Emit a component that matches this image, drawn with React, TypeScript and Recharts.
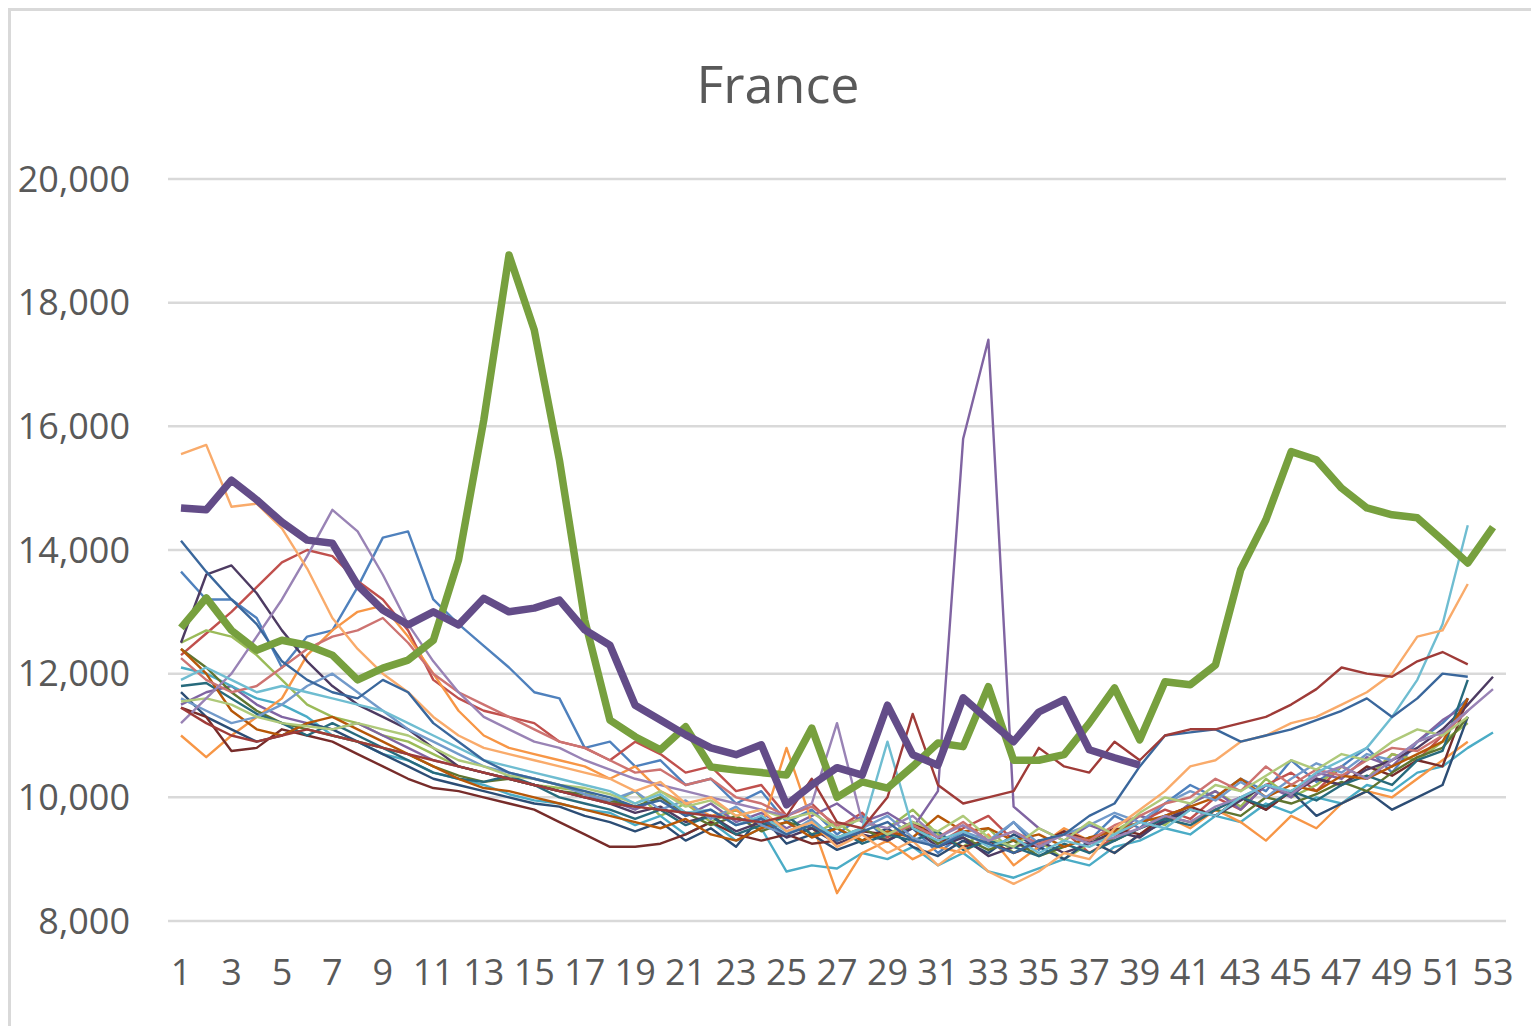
import { LineChart, Line, XAxis, YAxis, CartesianGrid } from "recharts";

// weekly deaths, France, one array per year (2021 stops at week 39)
const weeks = [
  1, 2, 3, 4, 5, 6, 7, 8, 9, 10, 11, 12, 13, 14, 15, 16, 17, 18, 19, 20, 21, 22, 23, 24, 25, 26, 27,
  28, 29, 30, 31, 32, 33, 34, 35, 36, 37, 38, 39, 40, 41, 42, 43, 44, 45, 46, 47, 48, 49, 50, 51, 52, 53,
];
const yTicks = [8000, 10000, 12000, 14000, 16000, 18000, 20000];

const y2000 = [13650,13200,13200,12900,12100,12600,12700,13400,14200,14300,13200,12800,12450,12100,11700,11600,10800,10900,10500,10600,10200,10300,9900,10100,9600,9800,9400,9700,9300,9500,9100,9400,9250,9600,9150,9450,9300,9700,9500,9900,10200,10000,10300,10100,10600,10250,10500,10800,10400,10900,11200,11600];
const y2001 = [12300,12650,13000,13400,13800,14000,13900,13500,13200,12700,11900,11600,11400,11300,11200,10900,10800,10600,10900,10700,10400,10500,10100,10200,9700,9900,9500,9750,9350,9600,9250,9500,9700,9300,9200,9450,9100,9350,9600,9800,9650,10000,9800,10200,10400,10100,10500,10300,10700,10600,11000,11500];
const y2002 = [12500,12700,12600,12300,11900,11500,11300,11200,11000,10900,10700,10500,10400,10300,10200,10150,10100,9900,10100,9700,9900,9600,9800,9500,9700,9400,9600,9300,9500,9800,9400,9200,9500,9100,9300,9000,9250,9450,9700,9550,9900,10100,9850,10300,10000,10200,10500,10300,10700,10600,10900,11200];
const y2003 = [11500,11700,11800,11500,11300,11200,11100,11200,11000,10800,10600,10500,10400,10300,10200,10100,10000,9950,9800,10000,9700,9900,9600,9750,9500,9700,9900,9600,9750,9500,10100,15800,17400,9850,9500,9300,9550,9400,9700,9600,9900,10100,9800,10200,10000,10400,10300,10650,10500,10900,11250,11500];
const y2004 = [12100,12000,11800,11600,11500,11300,11000,10900,10700,10600,10400,10300,10200,10050,9950,9900,9800,9750,9550,9700,9400,9600,9300,9500,8800,8900,8850,9100,9000,9200,8900,9100,8800,8700,8850,9000,8900,9200,9300,9500,9400,9700,9600,9900,9750,10000,9900,10200,10100,10400,10500,10800,11050];
const y2005 = [11000,10650,11000,11300,11600,12300,12700,13000,13100,12600,12000,11400,11000,10800,10700,10600,10500,10300,10500,10100,9900,9700,9800,9500,10800,9600,8450,9100,9300,9000,9200,9100,9400,8900,9200,9500,9300,9100,9400,9700,9500,9800,9600,9300,9700,9500,9900,10100,10000,10300,10600,10900];
const y2006 = [11700,11300,11100,10900,11000,11200,11100,10900,10700,10500,10300,10200,10100,10000,9900,9850,9700,9600,9450,9600,9300,9500,9200,9700,9250,9400,9150,9300,9500,9200,9050,9300,9100,9400,9200,9000,9300,9100,9400,9600,9800,9700,10000,9800,10100,9700,9900,10100,9800,10000,10200,11300];
const y2007 = [11450,11300,10750,10800,11100,11000,10900,10700,10500,10300,10150,10100,10000,9900,9800,9600,9400,9200,9200,9250,9400,9600,9400,9300,9400,9250,9300,9450,9400,9600,9350,9200,9300,9100,9250,9450,9300,9500,9400,9700,9850,9700,10000,9800,10100,10300,10200,10500,10350,10600,10500,11600];
const y2008 = [12400,12100,11700,11400,11200,11100,11000,10900,10800,10700,10500,10350,10250,10300,10200,10100,10050,9950,9850,10000,9750,9550,9700,9450,9600,9500,9350,9500,9300,9550,9250,9350,9150,9300,9050,9200,9350,9300,9500,9700,9600,9800,9700,10000,9900,10050,10250,10100,10400,10650,10800,11300];
const y2009 = [12500,13600,13750,13300,12700,12200,11800,11500,11300,11100,10800,10500,10400,10300,10200,10100,10000,9900,9750,9850,9600,9700,9450,9600,9350,9500,9250,9400,9300,9500,9200,9350,9050,9200,9300,9100,9250,9450,9350,9650,9800,9700,9950,10200,10050,10300,10200,10450,10600,10800,11100,11500,11950];
const y2010 = [11800,11850,11600,11350,11200,11000,11200,11000,10800,10600,10400,10300,10250,10350,10200,10000,9900,9800,9650,9800,9550,9700,9400,9550,9700,9400,9500,9250,9400,9300,9450,9150,9300,9200,9050,9250,9100,9300,9500,9650,9550,9800,10000,9850,10100,9950,10200,10350,10200,10600,10750,11900];
const y2011 = [12400,12000,11400,11100,11000,11200,11300,11100,10900,10700,10500,10300,10150,10100,10000,9900,9800,9700,9600,9500,9650,9400,9300,9500,9600,9350,9500,9300,9450,9350,9700,9450,9500,9300,9400,9200,9350,9450,9600,9700,9850,10000,10300,10000,10200,10100,10350,10300,10500,10700,10900,11600];
const y2012 = [11600,11400,11200,11300,11500,11800,12000,11700,11400,11100,10900,10700,10500,10400,10300,10200,10050,9950,10100,9800,9950,9650,9850,9550,9400,9650,9300,9500,9700,9350,9200,9450,9300,9600,9250,9400,9550,9750,9600,9900,10100,9950,10250,10000,10300,10550,10400,10700,10600,10900,11050,11400];
const y2013 = [12250,11900,11700,11800,12100,12400,12600,12700,12900,12500,12000,11700,11500,11300,11100,10900,10800,10600,10400,10450,10200,10300,10000,9900,9700,9850,9550,9650,9400,9550,9350,9600,9300,9450,9250,9400,9300,9550,9700,9900,10000,10300,10100,10500,10200,10450,10350,10600,10800,10750,11000,11400];
const y2014 = [11550,11600,11500,11300,11200,11150,11100,11200,11100,11000,10800,10600,10500,10350,10300,10200,10150,10050,9900,10100,9850,9950,9700,9800,9650,9750,9500,9650,9400,9600,9450,9700,9350,9200,9500,9300,9600,9400,9750,10000,9900,10200,10100,10350,10600,10450,10700,10600,10900,11100,11000,11300];
const y2015 = [11200,11600,12000,12600,13200,13900,14650,14300,13600,12800,12200,11700,11300,11100,10900,10800,10600,10450,10300,10200,10100,10000,9900,9800,9700,9900,11200,9600,9500,9700,9350,9550,9300,9450,9200,9400,9250,9350,9500,9700,9600,9850,10000,10200,10050,10350,10500,10300,10600,10900,11050,11400,11750];
const y2016 = [11900,12100,11900,11700,11800,11700,11600,11500,11400,11200,11000,10800,10600,10500,10400,10300,10200,10100,9900,10050,9750,9800,9550,9700,9450,9600,9350,9500,10900,9500,9300,9450,9200,9350,9100,9300,9200,9400,9600,9500,9800,9700,10000,10200,10100,10400,10600,10800,11300,11900,12800,14400];
const y2017 = [15550,15700,14700,14750,14350,13700,12900,12400,12000,11700,11300,11000,10800,10700,10600,10500,10400,10300,10100,10250,9900,10000,9700,9800,9450,9600,9200,9400,9100,9300,8900,9200,8800,8600,8800,9100,9000,9500,9800,10100,10500,10600,10900,11000,11200,11300,11500,11700,12000,12600,12700,13450];
const y2018 = [14150,13650,13200,12800,12200,11900,11700,11600,11900,11700,11200,10900,10600,10400,10300,10200,10100,10000,9850,9950,9700,9800,9550,9650,9400,9550,9300,9450,9600,9300,9200,9400,9250,9100,9300,9400,9700,9900,10500,11000,11050,11100,10900,11000,11100,11250,11400,11600,11300,11600,12000,11950];
const y2019 = [11450,11200,11000,10900,11000,11100,11000,10900,10800,10700,10600,10500,10400,10300,10200,10100,10000,9900,9850,9800,9750,9700,9650,9600,9700,10300,9600,9500,10000,11350,10200,9900,10000,10100,10800,10500,10400,10900,10600,11000,11100,11100,11200,11300,11500,11750,12100,12000,11950,12200,12350,12150];
const y2020 = [12740,13225,12700,12380,12540,12460,12300,11900,12090,12220,12540,13840,16100,18770,17560,15450,12870,11250,10980,10770,11140,10490,10440,10400,10360,11120,10000,10250,10150,10500,10880,10820,11790,10600,10600,10690,11200,11770,10930,11870,11820,12140,13680,14490,15590,15460,15000,14680,14570,14520,14160,13790,14370];
const y2021 = [14680,14650,15130,14810,14450,14160,14110,13430,13030,12790,13000,12790,13220,13000,13060,13190,12710,12460,11490,11250,11010,10800,10690,10850,9880,10200,10480,10360,11490,10690,10520,11610,11250,10900,11380,11580,10770,10640,10520];

const years = [
  { key: "2000", values: y2000 },
  { key: "2001", values: y2001 },
  { key: "2002", values: y2002 },
  { key: "2003", values: y2003 },
  { key: "2004", values: y2004 },
  { key: "2005", values: y2005 },
  { key: "2006", values: y2006 },
  { key: "2007", values: y2007 },
  { key: "2008", values: y2008 },
  { key: "2009", values: y2009 },
  { key: "2010", values: y2010 },
  { key: "2011", values: y2011 },
  { key: "2012", values: y2012 },
  { key: "2013", values: y2013 },
  { key: "2014", values: y2014 },
  { key: "2015", values: y2015 },
  { key: "2016", values: y2016 },
  { key: "2017", values: y2017 },
  { key: "2018", values: y2018 },
  { key: "2019", values: y2019 },
  { key: "2020", values: y2020 },
  { key: "2021", values: y2021 },
];

// office 2007 style palette, one per year
const colors = [
  "#4F81BD", "#C0504D", "#9BBB59", "#8064A2", "#4BACC6", "#F79646",
  "#2C4D75", "#772C2A", "#5F7530", "#4D3B62", "#276A7C", "#B65708",
  "#729ACA", "#CD7371", "#AFC97A", "#9983B5", "#6FBDD1", "#F9AB6B",
  "#3A679C", "#9F3B38", "#77A03E", "#634C88",
];
const thick = ["2020", "2021"];

const data = weeks.map((week, i) => {
  const row: Record<string, number | undefined> = { week };
  years.forEach((y) => {
    row[y.key] = y.values[i];
  });
  return row;
});

const font = "'Open Sans', 'Liberation Sans', sans-serif";
const tickStyle = { fontSize: 36, fill: "#595959", fontFamily: font };

export default function App() {
  return (
    <div
      style={{
        position: "relative",
        width: 1523,
        height: 1018,
        boxSizing: "border-box",
        borderTop: "3px solid #d9d9d9",
        borderLeft: "3px solid #d9d9d9",
        background: "#fff",
      }}
    >
      <svg
        width={1520}
        height={150}
        style={{ position: "absolute", left: 0, top: 0, pointerEvents: "none" }}
      >
        <text x={767} y={92} textAnchor="middle" fontSize={52} fill="#595959" fontFamily={font}>
          France
        </text>
      </svg>
      <LineChart
        width={1520}
        height={1015}
        data={data}
        margin={{ top: 168, right: 25, bottom: 45, left: 0 }}
      >
        <CartesianGrid vertical={false} stroke="#d9d9d9" strokeWidth={2.5} />
        <XAxis
          dataKey="week"
          interval={1}
          axisLine={false}
          tickLine={false}
          tickSize={0}
          tickMargin={38}
          height={60}
          padding={{ left: 13, right: 13 }}
          tick={tickStyle}
        />
        <YAxis
          domain={[8000, 20000]}
          ticks={yTicks}
          axisLine={false}
          tickLine={false}
          tickSize={0}
          tickMargin={38}
          width={157}
          tick={tickStyle}
          tickFormatter={(v: number) => v.toLocaleString("en-US")}
        />
        {years.map((y, i) => (
          <Line
            key={y.key}
            dataKey={y.key}
            type="linear"
            stroke={colors[i]}
            strokeWidth={thick.includes(y.key) ? 7.5 : 2.4}
            strokeLinejoin="round"
            dot={false}
            activeDot={false}
            isAnimationActive={false}
          />
        ))}
      </LineChart>
    </div>
  );
}
